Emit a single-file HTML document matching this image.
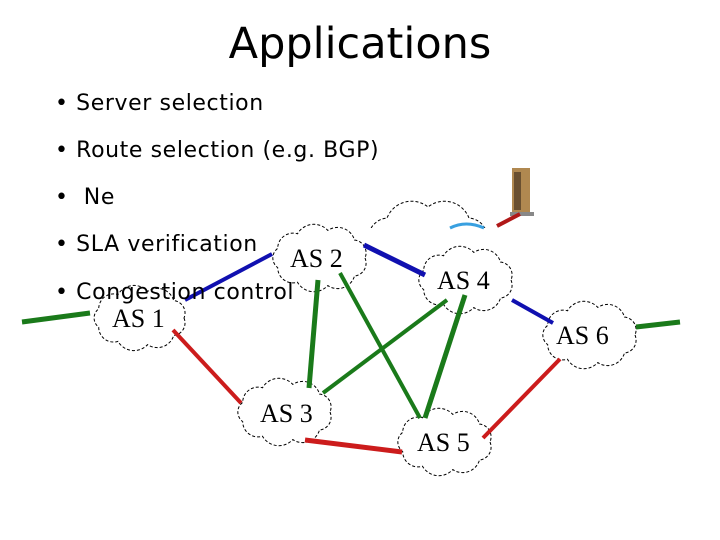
<!DOCTYPE html>
<html><head><meta charset="utf-8"><style>
html,body{margin:0;padding:0;background:#fff;}
#c{position:relative;width:720px;height:540px;overflow:hidden;font-family:"DejaVu Sans","Liberation Sans",sans-serif;}
.t{position:absolute;left:0;width:720px;text-align:center;top:19px;font-size:43px;color:#000;}
.b{position:absolute;left:55px;font-size:22px;letter-spacing:0.6px;color:#000;white-space:nowrap;}
svg{position:absolute;left:0;top:0;}
</style></head><body><div id="c">
<div class="t">Applications</div>
<div class="b" style="top:91px">• Server selection</div>
<div class="b" style="top:138px">• Route selection (e.g. BGP)</div>
<div class="b" style="top:185px">• &nbsp;Ne</div>
<div class="b" style="top:232px">• SLA verification</div>
<svg id="s" width="720" height="540" xmlns="http://www.w3.org/2000/svg">
<defs><clipPath id="cp"><rect x="0" y="0" width="720" height="228"/></clipPath></defs>
<g id="top" clip-path="url(#cp)"></g>
<rect x="512" y="168" width="18" height="46" fill="#b08850"/>
<rect x="514" y="172" width="7" height="38" fill="#3a2a1a" opacity="0.6"/>
<rect x="510" y="212" width="24" height="4" fill="#888"/>
<path d="M450 228 Q466 220 484 228" stroke="#39a0e0" stroke-width="3" fill="none"/>
<g id="clouds"></g>
<g stroke-linecap="butt" fill="none">
<line x1="497" y1="226" x2="520" y2="214" stroke="#b01818" stroke-width="4"/>
<line x1="22" y1="322" x2="90" y2="313" stroke="#1a7a1a" stroke-width="5"/>
<line x1="185" y1="300" x2="272" y2="254" stroke="#1010b0" stroke-width="4"/>
<line x1="364" y1="245" x2="425" y2="275" stroke="#1010b0" stroke-width="5"/>
<line x1="512" y1="300" x2="553" y2="323" stroke="#1010b0" stroke-width="4"/>
<line x1="636" y1="327" x2="680" y2="322" stroke="#1a7a1a" stroke-width="5"/>
<line x1="173" y1="330" x2="241" y2="403" stroke="#cc1c1c" stroke-width="4"/>
<line x1="305" y1="440" x2="402" y2="452" stroke="#cc1c1c" stroke-width="5"/>
<line x1="483" y1="438" x2="560" y2="359" stroke="#cc1c1c" stroke-width="4"/>
<line x1="318" y1="280" x2="309" y2="388" stroke="#1a7a1a" stroke-width="5"/>
<line x1="340" y1="273" x2="420" y2="418" stroke="#1a7a1a" stroke-width="4"/>
<line x1="447" y1="300" x2="323" y2="393" stroke="#1a7a1a" stroke-width="4"/>
<line x1="465" y1="295" x2="425" y2="418" stroke="#1a7a1a" stroke-width="5"/>
</g>
<g font-family="Liberation Serif, serif" font-size="26" fill="#000">
<text x="112" y="327">AS 1</text>
<text x="290" y="267">AS 2</text>
<text x="437" y="289">AS 4</text>
<text x="556" y="344">AS 6</text>
<text x="260" y="422">AS 3</text>
<text x="417" y="451">AS 5</text>
</g>
</svg>
<div class="b" style="top:280px">• Congestion control</div>
</div>
<script>
function cloud(cx,cy,rx,ry,n){var pts=[];for(var i=0;i<n;i++){var a=i/n*2*Math.PI;pts.push([cx+rx*Math.cos(a),cy+ry*Math.sin(a)]);}
var d="M"+pts[0][0].toFixed(1)+" "+pts[0][1].toFixed(1);
for(var i=1;i<=n;i++){var p=pts[i%n],q=pts[i-1];var r=Math.hypot(p[0]-q[0],p[1]-q[1])*0.62;d+=" A"+r.toFixed(1)+" "+r.toFixed(1)+" 0 0 1 "+p[0].toFixed(1)+" "+p[1].toFixed(1);}
return '<path d="'+d+'Z" fill="#fff" stroke="#000" stroke-width="1" stroke-dasharray="3 2"/>';}
document.getElementById("top").innerHTML=cloud(428,245,58,38,8);
var h="";
h+=cloud(140,318,44,27,9);
h+=cloud(320,258,45,28,9);
h+=cloud(466,280,45,28,9);
h+=cloud(590,335,45,28,9);
h+=cloud(285,412,45,28,9);
h+=cloud(445,442,45,28,9);
document.getElementById("clouds").innerHTML=h;
</script>
</body></html>
